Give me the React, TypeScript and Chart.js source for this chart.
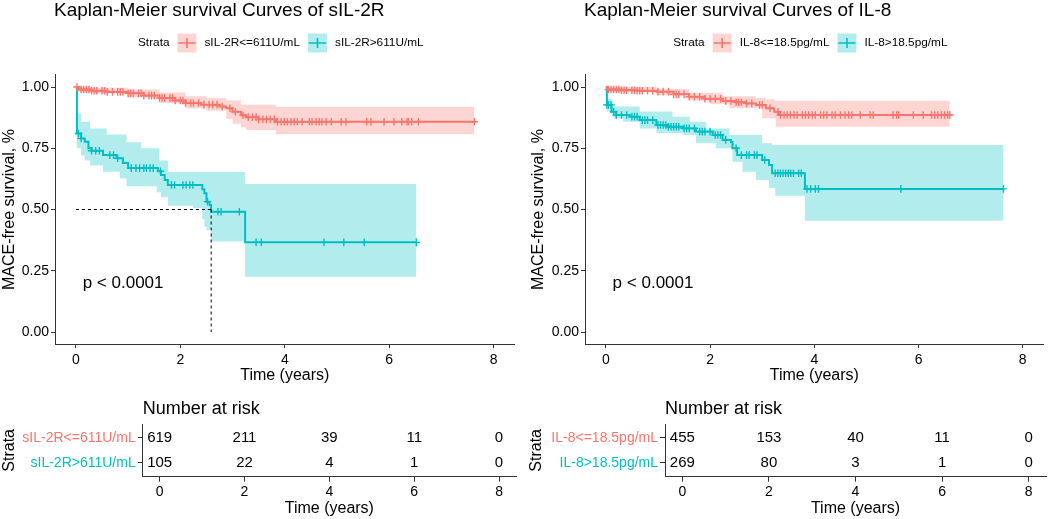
import React, { useEffect, useRef } from 'react';
import { Chart, registerables } from 'chart.js';

Chart.register(...registerables);

const FONT = '"Liberation Sans", Arial, Helvetica, sans-serif';
const RED = '#F8766D';
const CYAN = '#00BFC4';
const RED_BAND = 'rgba(248,118,109,0.3)';
const CYAN_BAND = 'rgba(0,191,196,0.3)';
const AXIS = '#333333';

// ---------- axis ticks ----------
const xTicks = [0, 2, 4, 6, 8];
const yTicks = [0, 0.25, 0.5, 0.75, 1];
const riskTimes = [0, 2, 4, 6, 8];

// ---------- sIL-2R <= 611 U/mL ----------
const il2rLowTimes = [0, 0.05, 0.3, 0.6, 1.0, 1.3, 1.6, 1.9, 2.1, 2.4, 2.75, 2.88, 3.0, 3.16, 3.26, 3.5, 3.83];
const il2rLowSurv = [1.0, 0.99, 0.985, 0.98, 0.974, 0.965, 0.955, 0.945, 0.935, 0.928, 0.92, 0.913, 0.899, 0.885, 0.877, 0.868, 0.858];
const il2rLowUpperTimes = [0, 0.3, 1.0, 1.6, 2.1, 2.5, 2.88, 3.16, 3.83];
const il2rLowUpper = [1.0, 0.997, 0.99, 0.978, 0.962, 0.955, 0.945, 0.928, 0.918];
const il2rLowLowerTimes = [0, 0.05, 0.3, 1.0, 1.6, 2.1, 2.5, 2.88, 3.0, 3.16, 3.26, 3.83];
const il2rLowLower = [1.0, 0.98, 0.974, 0.958, 0.935, 0.912, 0.903, 0.87, 0.85, 0.835, 0.824, 0.807];
const il2rLowEnd = 7.63;
const il2rLowCensor = [0.02, 0.1, 0.15, 0.2, 0.25, 0.3, 0.35, 0.4, 0.5, 0.55, 0.6, 0.7, 0.8, 0.85, 0.9, 1.0, 1.05, 1.1, 1.2, 1.25, 1.3, 1.4, 1.45, 1.5, 1.6, 1.65, 1.7, 1.8, 1.85, 1.9, 2.0, 2.05, 2.1, 2.2, 2.25, 2.35, 2.45, 2.55, 2.62, 2.7, 2.8, 2.95, 3.05, 3.2, 3.3, 3.38, 3.45, 3.5, 3.58, 3.65, 3.72, 3.8, 3.86, 3.93, 3.99, 4.05, 4.12, 4.18, 4.24, 4.33, 4.47, 4.52, 4.6, 4.66, 4.71, 4.79, 4.89, 5.08, 5.17, 5.57, 5.65, 5.9, 6.09, 6.24, 6.34, 6.37, 6.43, 6.56, 7.63];
const il2rLowRisk = [619, 211, 39, 11, 0];

// ---------- sIL-2R > 611 U/mL ----------
const il2rHighTimes = [0, 0.02, 0.1, 0.17, 0.24, 0.3, 0.52, 0.78, 0.9, 1.0, 1.57, 1.63, 1.7, 1.76, 2.42, 2.46, 2.5, 2.56, 2.59, 3.24];
const il2rHighSurv = [1.0, 0.81, 0.79, 0.777, 0.75, 0.74, 0.722, 0.709, 0.69, 0.669, 0.656, 0.641, 0.62, 0.6, 0.583, 0.566, 0.532, 0.518, 0.491, 0.366];
const il2rHighUpperTimes = [0, 0.02, 0.1, 0.27, 0.59, 0.97, 1.25, 1.6, 1.77, 3.24];
const il2rHighUpper = [1.0, 0.893, 0.858, 0.831, 0.806, 0.775, 0.75, 0.7, 0.653, 0.604];
const il2rHighLowerTimes = [0, 0.02, 0.1, 0.17, 0.27, 0.52, 0.84, 0.97, 1.55, 1.63, 1.76, 2.24, 2.42, 2.46, 2.5, 2.59, 3.24];
const il2rHighLower = [1.0, 0.75, 0.72, 0.7, 0.68, 0.654, 0.627, 0.595, 0.57, 0.55, 0.515, 0.505, 0.46, 0.43, 0.416, 0.369, 0.226];
const il2rHighEnd = 6.52;
const il2rHighCensor = [0.05, 0.1, 0.3, 0.38, 0.45, 0.65, 0.72, 0.8, 1.06, 1.15, 1.22, 1.3, 1.35, 1.42, 1.48, 1.62, 1.83, 1.89, 2.05, 2.11, 2.18, 2.24, 2.52, 2.72, 2.78, 3.13, 3.45, 3.55, 4.75, 5.13, 5.52, 6.52];
const il2rHighRisk = [105, 22, 4, 1, 0];
const il2rMedian = 2.59;

// ---------- IL-8 <= 18.5 pg/mL ----------
const il8LowTimes = [0, 0.03, 0.3, 0.6, 0.97, 1.3, 1.6, 1.9, 2.24, 2.5, 2.69, 2.88, 3.07, 3.23, 3.32];
const il8LowSurv = [1.0, 0.99, 0.987, 0.985, 0.981, 0.97, 0.96, 0.952, 0.943, 0.938, 0.933, 0.927, 0.913, 0.899, 0.886];
const il8LowUpperTimes = [0, 0.97, 1.6, 2.24, 2.88, 3.07, 3.23];
const il8LowUpper = [1.0, 0.992, 0.977, 0.962, 0.955, 0.95, 0.944];
const il8LowLowerTimes = [0, 0.03, 0.97, 1.6, 2.0, 2.37, 3.0, 3.26];
const il8LowLower = [1.0, 0.98, 0.966, 0.945, 0.93, 0.913, 0.872, 0.838];
const il8LowEnd = 6.6;
const il8LowCensor = [0.05, 0.1, 0.15, 0.2, 0.25, 0.3, 0.35, 0.4, 0.5, 0.55, 0.6, 0.65, 0.7, 0.8, 0.9, 1.0, 1.1, 1.2, 1.3, 1.35, 1.4, 1.5, 1.6, 1.7, 1.8, 1.9, 2.0, 2.1, 2.2, 2.3, 2.4, 2.5, 2.55, 2.6, 2.7, 2.8, 2.95, 3.0, 3.15, 3.3, 3.35, 3.42, 3.48, 3.54, 3.61, 3.67, 3.77, 3.83, 3.89, 3.96, 4.02, 4.12, 4.18, 4.24, 4.34, 4.4, 4.5, 4.59, 4.66, 4.72, 4.88, 5.07, 5.13, 5.51, 5.58, 5.62, 5.9, 6.09, 6.25, 6.31, 6.37, 6.44, 6.5, 6.56, 6.6];
const il8LowRisk = [455, 153, 40, 11, 0];

// ---------- IL-8 > 18.5 pg/mL ----------
const il8HighTimes = [0, 0.02, 0.11, 0.2, 0.46, 0.65, 0.97, 1.2, 1.48, 1.73, 2.05, 2.24, 2.4, 2.43, 2.52, 3.0, 3.13, 3.19, 3.82];
const il8HighSurv = [1.0, 0.927, 0.899, 0.886, 0.879, 0.865, 0.845, 0.838, 0.831, 0.818, 0.804, 0.784, 0.776, 0.75, 0.722, 0.702, 0.682, 0.648, 0.584];
const il8HighUpperTimes = [0, 0.02, 0.13, 0.65, 1.28, 1.61, 1.93, 2.37, 3.0, 3.19];
const il8HighUpper = [1.0, 0.95, 0.92, 0.9, 0.879, 0.858, 0.831, 0.804, 0.77, 0.763];
const il8HighLowerTimes = [0, 0.02, 0.14, 0.33, 0.65, 0.97, 1.48, 1.73, 2.11, 2.43, 2.62, 2.88, 3.13, 3.25, 3.82];
const il8HighLower = [1.0, 0.9, 0.872, 0.858, 0.831, 0.811, 0.804, 0.77, 0.75, 0.695, 0.654, 0.62, 0.588, 0.556, 0.454];
const il8HighEnd = 7.63;
const il8HighCensor = [0.02, 0.05, 0.1, 0.15, 0.2, 0.3, 0.4, 0.5, 0.55, 0.6, 0.7, 0.75, 0.8, 0.9, 1.0, 1.05, 1.1, 1.15, 1.2, 1.25, 1.3, 1.35, 1.4, 1.5, 1.55, 1.6, 1.7, 1.8, 1.85, 1.9, 2.0, 2.1, 2.15, 2.2, 2.3, 2.5, 2.6, 2.7, 2.75, 2.85, 2.9, 3.05, 3.25, 3.3, 3.35, 3.4, 3.45, 3.5, 3.55, 3.6, 3.7, 3.75, 3.86, 3.93, 4.02, 4.08, 5.66, 7.63];
const il8HighRisk = [269, 80, 3, 1, 0];

// ---------- labels ----------
const il2rLabels = ['sIL-2R<=611U/mL', 'sIL-2R>611U/mL'];
const il8Labels = ['IL-8<=18.5pg/mL', 'IL-8>18.5pg/mL'];

// ---------- helpers ----------
function stepData(times: number[], vals: number[], end: number) {
  const pts = times.map((t, i) => ({ x: t, y: vals[i] }));
  pts.push({ x: end, y: vals[vals.length - 1] });
  return pts;
}
function survAt(times: number[], vals: number[], t: number) {
  let v = vals[0];
  for (let i = 0; i < times.length; i++) if (times[i] <= t) v = vals[i];
  return v;
}

type Group = {
  label: string; color: string; band: string;
  times: number[]; surv: number[];
  upT: number[]; up: number[]; loT: number[]; lo: number[];
  end: number; censor: number[];
};

function kmChart(canvas: HTMLCanvasElement, title: string, groups: Group[], median: number | null, yAxisW: number, padRight: number) {
  const datasets: any[] = [];
  if (median !== null) {
    datasets.push({ data: [{ x: 0, y: 0.5 }, { x: median, y: 0.5 }], borderColor: '#000', borderWidth: 1, borderDash: [3, 3], pointRadius: 0, fill: false });
    datasets.push({ data: [{ x: median, y: 0.5 }, { x: median, y: 0 }], borderColor: '#000', borderWidth: 1, borderDash: [3, 3], pointRadius: 0, fill: false });
  }
  groups.forEach((g) => {
    datasets.push({
      data: g.censor.map((t) => ({ x: t, y: survAt(g.times, g.surv, t) })),
      showLine: false, pointStyle: 'cross', pointRadius: 3.8, pointBorderWidth: 1.4,
      pointBorderColor: g.color, pointBackgroundColor: g.color, fill: false,
    });
    datasets.push({
      data: stepData(g.times, g.surv, g.end), stepped: 'before', borderColor: g.color,
      borderWidth: 2, pointRadius: 0, fill: false,
    });
  });
  groups.forEach((g) => {
    datasets.push({
      data: stepData(g.loT, g.lo, g.end), stepped: 'before', borderColor: 'rgba(0,0,0,0)',
      borderWidth: 0, pointRadius: 0, fill: false,
    });
    datasets.push({
      data: stepData(g.upT, g.up, g.end), stepped: 'before', borderColor: 'rgba(0,0,0,0)',
      borderWidth: 0, pointRadius: 0, fill: '-1', backgroundColor: g.band,
    });
  });

  const decor = {
    id: 'kmDecor',
    afterDraw(chart: any) {
      const ctx = chart.ctx;
      const area = chart.chartArea;
      const xs = chart.scales.x;
      const ys = chart.scales.y;
      ctx.save();
      // title
      ctx.fillStyle = '#000';
      ctx.font = `19px ${FONT}`;
      ctx.textBaseline = 'alphabetic';
      ctx.textAlign = 'left';
      ctx.fillText(title, area.left - 1, 15.5);
      // legend
      ctx.font = `11.8px ${FONT}`;
      ctx.textBaseline = 'middle';
      const box = 19, gap = 8, cy = 43;
      const wS = ctx.measureText('Strata').width;
      const ws = groups.map((g) => ctx.measureText(g.label).width);
      const total = wS + groups.length * (gap + box + gap) + ws.reduce((a, b) => a + b, 0) + gap * (groups.length - 1);
      let x = (area.left + area.right) / 2 - total / 2;
      ctx.fillText('Strata', x, cy);
      x += wS + gap;
      groups.forEach((g, i) => {
        ctx.fillStyle = g.band;
        ctx.fillRect(x, cy - box / 2, box, box);
        ctx.strokeStyle = g.color;
        ctx.lineWidth = 1.6;
        ctx.beginPath();
        ctx.moveTo(x + 1, cy); ctx.lineTo(x + box - 1, cy);
        ctx.moveTo(x + box / 2, cy - 5); ctx.lineTo(x + box / 2, cy + 5);
        ctx.stroke();
        x += box + gap;
        ctx.fillStyle = '#000';
        ctx.fillText(g.label, x, cy);
        x += ws[i] + gap;
      });
      // p-value
      ctx.font = `17px ${FONT}`;
      ctx.fillText('p < 0.0001', xs.getPixelForValue(0.13), ys.getPixelForValue(0.2));
      ctx.restore();
    },
  };

  return new Chart(canvas, {
    type: 'line',
    data: { datasets },
    plugins: [decor],
    options: {
      animation: false, responsive: false, events: [],
      layout: { padding: { left: 0, top: 74.75, right: padRight, bottom: 0 } },
      plugins: { legend: { display: false }, tooltip: { enabled: false }, title: { display: false } },
      scales: {
        x: {
          type: 'linear', min: -0.4, max: 8.4,
          afterBuildTicks: (s: any) => { s.ticks = xTicks.map((v) => ({ value: v })); },
          afterFit: (s: any) => { s.height = 40.75; },
          ticks: { font: { size: 14, family: FONT }, color: '#000', padding: 3, maxRotation: 0, autoSkip: false },
          grid: { drawOnChartArea: false, drawTicks: true, tickLength: 4, color: AXIS, lineWidth: 1 },
          border: { display: true, color: AXIS, width: 1 },
          title: { display: true, text: 'Time (years)', font: { size: 16, family: FONT }, color: '#000', padding: { top: 0, bottom: 0 } },
        },
        y: {
          type: 'linear', min: -0.05, max: 1.05,
          afterBuildTicks: (s: any) => { s.ticks = yTicks.map((v) => ({ value: v })); },
          afterFit: (s: any) => { s.width = yAxisW; },
          ticks: { font: { size: 14, family: FONT }, color: '#000', padding: 2, callback: (v: any) => Number(v).toFixed(2) },
          grid: { drawOnChartArea: false, drawTicks: true, tickLength: 4, color: AXIS, lineWidth: 1 },
          border: { display: true, color: AXIS, width: 1 },
          title: { display: true, text: 'MACE-free survival, %', font: { size: 16, family: FONT }, color: '#000', padding: 0 },
        },
      },
    } as any,
  });
}

function riskChart(canvas: HTMLCanvasElement, labels: string[], risks: number[][], yAxisW: number, padRight: number) {
  const rows = [2, 1];
  const colors = [RED, CYAN];
  const datasets = risks.map((r, k) => ({
    data: riskTimes.map((t) => ({ x: t, y: rows[k] })),
    showLine: false, pointRadius: 0, borderColor: 'rgba(0,0,0,0)',
  }));
  const decor = {
    id: 'riskDecor',
    afterDraw(chart: any) {
      const ctx = chart.ctx;
      const area = chart.chartArea;
      const xs = chart.scales.x;
      const ys = chart.scales.y;
      ctx.save();
      ctx.fillStyle = '#000';
      ctx.font = `18px ${FONT}`;
      ctx.textAlign = 'left';
      ctx.textBaseline = 'alphabetic';
      ctx.fillText('Number at risk', area.left, 28.5);
      ctx.font = `15px ${FONT}`;
      ctx.textAlign = 'center';
      ctx.textBaseline = 'middle';
      risks.forEach((r, k) => {
        r.forEach((n, i) => {
          ctx.fillText(String(n), xs.getPixelForValue(riskTimes[i]), ys.getPixelForValue(rows[k]));
        });
      });
      ctx.restore();
    },
  };
  return new Chart(canvas, {
    type: 'scatter',
    data: { datasets },
    plugins: [decor],
    options: {
      animation: false, responsive: false, events: [],
      layout: { padding: { left: 0, top: 39, right: padRight, bottom: 0 } },
      plugins: { legend: { display: false }, tooltip: { enabled: false }, title: { display: false } },
      scales: {
        x: {
          type: 'linear', min: -0.4, max: 8.4,
          afterBuildTicks: (s: any) => { s.ticks = riskTimes.map((v) => ({ value: v })); },
          afterFit: (s: any) => { s.height = 42.3; },
          ticks: { font: { size: 14, family: FONT }, color: '#000', padding: 2, maxRotation: 0, autoSkip: false },
          grid: { drawOnChartArea: false, drawTicks: true, tickLength: 5, color: AXIS, lineWidth: 1 },
          border: { display: true, color: AXIS, width: 1 },
          title: { display: true, text: 'Time (years)', font: { size: 16, family: FONT }, color: '#000', padding: { top: 0, bottom: 1 } },
        },
        y: {
          type: 'linear', min: 0.45, max: 2.55,
          afterBuildTicks: (s: any) => { s.ticks = rows.map((v) => ({ value: v })); },
          afterFit: (s: any) => { s.width = yAxisW; },
          ticks: {
            font: { size: 14, family: FONT }, padding: 2,
            color: (c: any) => (c.tick && c.tick.value === 2 ? colors[0] : colors[1]),
            callback: (v: any) => (v === 2 ? labels[0] : labels[1]),
          },
          grid: { drawOnChartArea: false, drawTicks: true, tickLength: 5, color: AXIS, lineWidth: 1 },
          border: { display: true, color: AXIS, width: 1 },
          title: { display: true, text: 'Strata', font: { size: 16, family: FONT }, color: '#000', padding: 0 },
        },
      },
    } as any,
  });
}

export default function App() {
  const km1 = useRef<HTMLCanvasElement>(null);
  const km2 = useRef<HTMLCanvasElement>(null);
  const rt1 = useRef<HTMLCanvasElement>(null);
  const rt2 = useRef<HTMLCanvasElement>(null);

  useEffect(() => {
    const il2rGroups: Group[] = [
      { label: il2rLabels[0], color: RED, band: RED_BAND, times: il2rLowTimes, surv: il2rLowSurv, upT: il2rLowUpperTimes, up: il2rLowUpper, loT: il2rLowLowerTimes, lo: il2rLowLower, end: il2rLowEnd, censor: il2rLowCensor },
      { label: il2rLabels[1], color: CYAN, band: CYAN_BAND, times: il2rHighTimes, surv: il2rHighSurv, upT: il2rHighUpperTimes, up: il2rHighUpper, loT: il2rHighLowerTimes, lo: il2rHighLower, end: il2rHighEnd, censor: il2rHighCensor },
    ];
    const il8Groups: Group[] = [
      { label: il8Labels[0], color: RED, band: RED_BAND, times: il8LowTimes, surv: il8LowSurv, upT: il8LowUpperTimes, up: il8LowUpper, loT: il8LowLowerTimes, lo: il8LowLower, end: il8LowEnd, censor: il8LowCensor },
      { label: il8Labels[1], color: CYAN, band: CYAN_BAND, times: il8HighTimes, surv: il8HighSurv, upT: il8HighUpperTimes, up: il8HighUpper, loT: il8HighLowerTimes, lo: il8HighLower, end: il8HighEnd, censor: il8HighCensor },
    ];
    const charts = [
      kmChart(km1.current!, 'Kaplan-Meier survival Curves of sIL-2R', il2rGroups, il2rMedian, 55, 4),
      kmChart(km2.current!, 'Kaplan-Meier survival Curves of IL-8', il8Groups, null, 56, 3),
      riskChart(rt1.current!, il2rLabels, [il2rLowRisk, il2rHighRisk], 142.7, 4),
      riskChart(rt2.current!, il8Labels, [il8LowRisk, il8HighRisk], 138, 3),
    ];
    return () => charts.forEach((c) => c.destroy());
  }, []);

  const abs = (l: number, t: number): React.CSSProperties => ({ position: 'absolute', left: l, top: t });
  return (
    <div style={{ position: 'absolute', left: 0, top: 0, width: 1049, height: 519, background: '#fff', overflow: 'hidden' }}>
      <canvas ref={km1} width={520} height={385} style={abs(0, 0)} />
      <canvas ref={km2} width={520} height={385} style={abs(529, 0)} />
      <canvas ref={rt1} width={520} height={134} style={abs(0, 385)} />
      <canvas ref={rt2} width={522} height={134} style={abs(527, 385)} />
    </div>
  );
}
